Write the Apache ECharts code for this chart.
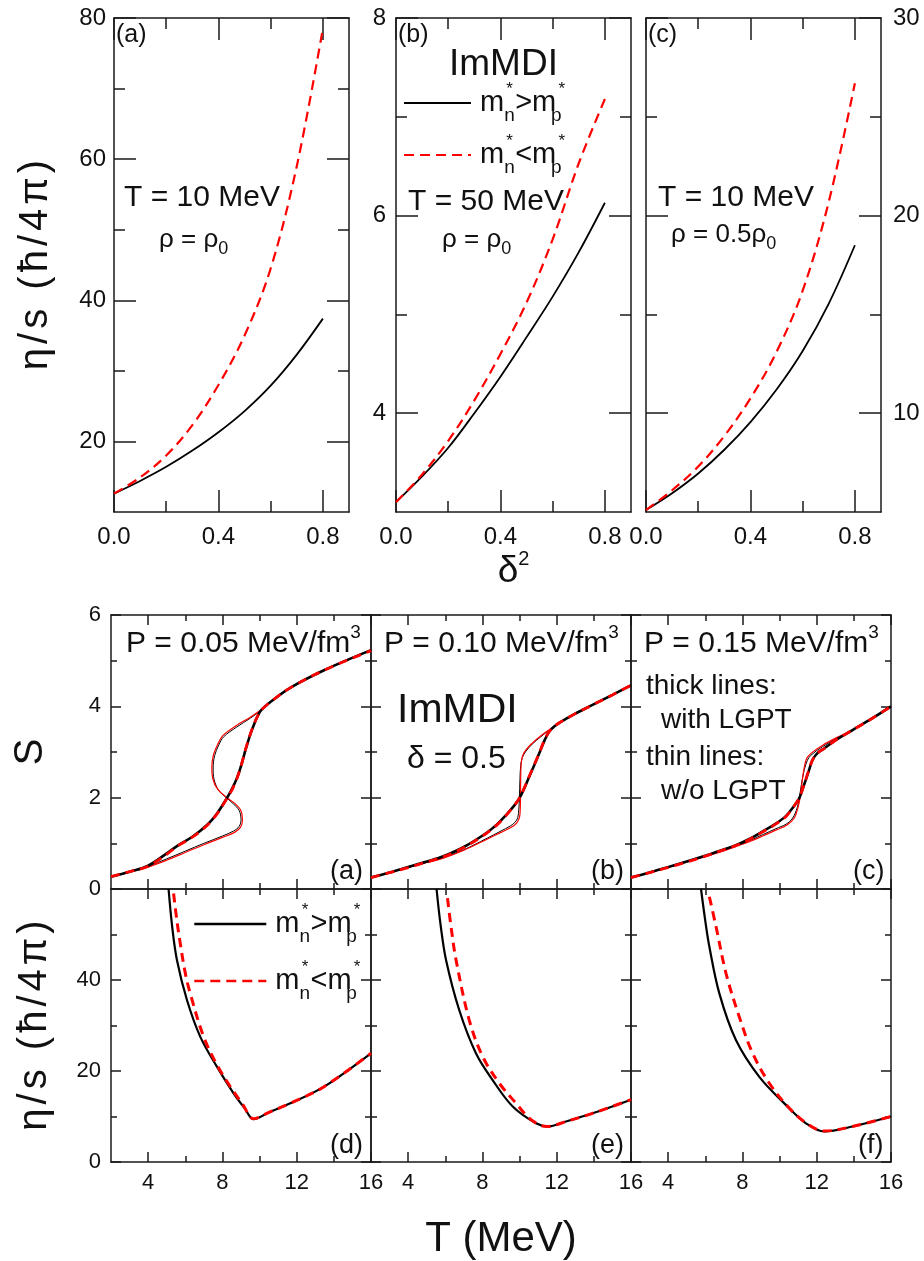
<!DOCTYPE html>
<html>
<head>
<meta charset="utf-8">
<script src="https://cdn.jsdelivr.net/npm/echarts@6/dist/echarts.min.js"></script>
<style>
  html, body { margin: 0; padding: 0; background: #fff; }
  #chart { width: 924px; height: 1261px; }
</style>
</head>
<body>
<div id="chart"></div>
<script>
const FONT = '"Liberation Sans", Arial, Helvetica, sans-serif';
const INK = '#111';
const AXIS = '#1a1a1a';
const RED = '#ff0000';

// ---------- upper row: eta/s versus delta^2 ----------
const delta2 = [0, 0.1, 0.2, 0.3, 0.4, 0.5, 0.6, 0.7, 0.8];
const etaT10rho1_gt = [12.6, 14.4, 16.4, 18.7, 21.3, 24.3, 27.9, 32.3, 37.4];
const etaT10rho1_lt = [12.6, 14.9, 18.0, 22.3, 28.0, 35.0, 44.5, 59.0, 78.5];
const etaT50rho1_gt = [3.1, 3.36, 3.65, 4.0, 4.37, 4.77, 5.18, 5.63, 6.13];
const etaT50rho1_lt = [3.1, 3.38, 3.72, 4.13, 4.6, 5.12, 5.76, 6.53, 7.18];
const etaT10rho05_gt = [5.1, 5.95, 6.95, 8.15, 9.55, 11.2, 13.15, 15.55, 18.5];
const etaT10rho05_lt = [5.1, 6.1, 7.3, 8.85, 10.75, 13.1, 16.2, 20.7, 26.7];

// ---------- lower row: entropy per nucleon S(T) at fixed pressure ----------
const S_P005_lgpt_gt = [[2,0.27],[3,0.38],[4,0.51],[5,0.78],[5.55,0.94],[6.4,1.15],[7.17,1.40],[7.7,1.65],[8.24,1.99],[8.55,2.22],[8.8,2.45],[9.02,2.72],[9.24,3.04],[9.48,3.36],[9.69,3.59],[9.9,3.79],[10.1,3.92],[10.6,4.1],[11.67,4.41],[13.47,4.79],[16,5.23]];
const S_P005_lgpt_lt = [[2,0.27],[3,0.38],[4,0.5],[5,0.76],[5.55,0.93],[6.4,1.14],[7.17,1.39],[7.7,1.64],[8.24,1.98],[8.55,2.2],[8.8,2.44],[9.02,2.72],[9.24,3.05],[9.48,3.37],[9.69,3.6],[9.9,3.79],[10.1,3.92],[10.6,4.1],[11.67,4.41],[13.47,4.79],[16,5.22]];
const S_P005_nolgpt_gt = [[2,0.27],[3,0.38],[4,0.5],[5,0.66],[6,0.83],[7,1.0],[8,1.16],[8.6,1.27],[8.9,1.37],[9.0,1.52],[8.9,1.72],[8.6,1.86],[8.24,1.99],[7.8,2.16],[7.55,2.4],[7.5,2.65],[7.58,2.92],[7.8,3.15],[8.06,3.33],[8.78,3.55],[9.5,3.74],[10.1,3.92],[10.6,4.1],[11.67,4.41],[13.47,4.79],[16,5.23]];
const S_P005_nolgpt_lt = [[2,0.27],[3,0.37],[4,0.48],[5,0.63],[6,0.8],[7,0.97],[8,1.13],[8.65,1.24],[8.97,1.35],[9.08,1.52],[8.98,1.73],[8.65,1.88],[8.24,2.0],[7.75,2.18],[7.48,2.42],[7.43,2.67],[7.52,2.94],[7.75,3.17],[8.02,3.36],[8.75,3.58],[9.5,3.76],[10.1,3.93],[10.6,4.1],[11.67,4.41],[13.47,4.79],[16,5.23]];

const S_P010_lgpt_gt = [[2,0.25],[3,0.36],[4,0.48],[5,0.6],[5.86,0.71],[7,0.92],[8.19,1.22],[8.8,1.42],[9.27,1.62],[9.7,1.82],[9.99,1.99],[10.27,2.22],[10.52,2.46],[10.8,2.72],[11.06,2.97],[11.35,3.26],[11.6,3.45],[11.9,3.57],[12.14,3.64],[13,3.84],[13.93,4.03],[15,4.25],[16,4.46]];
const S_P010_lgpt_lt = [[2,0.25],[3,0.36],[4,0.47],[5,0.59],[5.86,0.7],[7,0.91],[8.19,1.21],[8.8,1.41],[9.27,1.61],[9.7,1.82],[9.99,1.99],[10.27,2.23],[10.52,2.47],[10.8,2.73],[11.06,2.98],[11.35,3.27],[11.6,3.45],[11.9,3.57],[12.14,3.64],[13,3.84],[13.93,4.03],[15,4.25],[16,4.46]];
const S_P010_nolgpt_gt = [[2,0.25],[3,0.36],[4,0.47],[5,0.58],[5.86,0.68],[7,0.86],[8.19,1.1],[9,1.27],[9.5,1.38],[9.75,1.46],[9.9,1.56],[9.96,1.75],[9.99,1.99],[10.02,2.4],[10.06,2.7],[10.15,2.88],[10.35,3.02],[10.7,3.18],[11.1,3.32],[11.5,3.45],[12.14,3.64],[13,3.84],[13.93,4.03],[15,4.25],[16,4.46]];
const S_P010_nolgpt_lt = [[2,0.25],[3,0.36],[4,0.47],[5,0.58],[5.86,0.67],[7,0.85],[8.19,1.08],[9,1.24],[9.55,1.35],[9.85,1.45],[10.0,1.58],[10.04,1.8],[10.05,2.0],[10.06,2.4],[10.08,2.7],[10.15,2.9],[10.35,3.05],[10.7,3.2],[11.1,3.34],[11.5,3.46],[12.14,3.64],[13,3.84],[13.93,4.03],[15,4.25],[16,4.46]];

const S_P015_lgpt_gt = [[2,0.25],[3,0.36],[4.07,0.49],[5,0.6],[5.86,0.71],[6.8,0.84],[7.65,0.96],[8.4,1.1],[9.09,1.26],[9.8,1.43],[10.35,1.6],[10.75,1.8],[11.06,1.99],[11.25,2.2],[11.42,2.4],[11.6,2.62],[11.78,2.83],[12.05,2.98],[12.41,3.08],[13.1,3.28],[13.93,3.48],[15,3.74],[16,4.0]];
const S_P015_lgpt_lt = [[2,0.25],[3,0.36],[4.07,0.48],[5,0.59],[5.86,0.7],[6.8,0.83],[7.65,0.95],[8.4,1.09],[9.09,1.25],[9.8,1.42],[10.35,1.59],[10.75,1.8],[11.06,1.99],[11.25,2.2],[11.42,2.41],[11.6,2.63],[11.78,2.83],[12.05,2.98],[12.41,3.08],[13.1,3.28],[13.93,3.48],[15,3.74],[16,4.0]];
const S_P015_nolgpt_gt = [[2,0.25],[3,0.36],[4.07,0.49],[5,0.6],[5.86,0.7],[6.8,0.82],[7.65,0.94],[8.4,1.06],[9.09,1.19],[9.8,1.32],[10.35,1.42],[10.7,1.55],[10.95,1.78],[11.06,1.99],[11.18,2.3],[11.33,2.61],[11.5,2.82],[11.69,2.93],[12.32,3.12],[13.1,3.3],[13.93,3.48],[15,3.74],[16,4.0]];
const S_P015_nolgpt_lt = [[2,0.25],[3,0.36],[4.07,0.48],[5,0.59],[5.86,0.69],[6.8,0.81],[7.65,0.93],[8.4,1.04],[9.09,1.16],[9.8,1.29],[10.4,1.4],[10.8,1.56],[11.0,1.8],[11.1,1.99],[11.2,2.3],[11.3,2.6],[11.45,2.85],[11.69,2.97],[12.32,3.15],[13.1,3.32],[13.93,3.48],[15,3.74],[16,4.0]];

// ---------- lower row: eta/s versus T ----------
const eta_P005_gt = [[5.1,60],[5.3,51.5],[5.55,44.4],[6.09,35.6],[6.81,27.5],[7.71,20.9],[8.6,15.1],[9.2,11.8],[9.68,9.4],[10.5,10.9],[11.66,12.9],[13.45,16.5],[16,23.9]];
const eta_P005_lt = [[5.37,59],[5.55,53],[5.73,48],[6.0,41.5],[6.27,37],[6.99,27.5],[7.71,21.3],[8.42,16.6],[9.1,12.6],[9.68,9.5],[10.5,10.9],[11.66,12.9],[13.45,16.5],[16,23.9]];
const eta_P010_gt = [[5.53,60],[5.75,52],[6.04,44.4],[6.75,33.4],[7.65,23.9],[8.55,18],[9.63,12.2],[10.89,8.5],[11.51,7.8],[12.5,8.9],[13.93,10.7],[16,13.7]];
const eta_P010_lt = [[6.12,58],[6.3,52],[6.58,44.4],[7.29,31.2],[8.01,23.2],[8.91,17.3],[9.81,12.9],[10.5,9.7],[11.1,8.1],[11.51,7.8],[12.5,8.9],[13.93,10.7],[16,13.7]];
const eta_P015_gt = [[5.77,60],[6.0,53],[6.22,47.3],[6.76,37],[7.65,26.8],[8.91,18.7],[10.35,12.5],[11.42,8.5],[12.41,6.7],[13.93,7.8],[16,10.0]];
const eta_P015_lt = [[6.22,58.3],[6.58,51.7],[7.12,41.4],[7.83,31.9],[8.55,23.9],[9.45,17.3],[10.53,11.8],[11.42,8.6],[12.41,6.8],[13.93,7.8],[16,10.0]];

// ---------- axis ranges and ticks ----------
const xDelta = { range: [0, 0.9], major: [0, 0.4, 0.8], minor: [0.2, 0.6], labels: [0, 0.4, 0.8] };
const yEtaA = { range: [10, 80], major: [20, 40, 60, 80], minor: [30, 50, 70], labels: [20, 40, 60, 80] };
const yEtaB = { range: [3, 8], major: [4, 6, 8], minor: [5, 7], labels: [4, 6, 8] };
const yEtaC = { range: [5, 30], major: [10, 20, 30], minor: [15, 25], labels: [10, 20, 30] };
const xTemp = { range: [2, 16], major: [4, 8, 12, 16], minor: [6, 10, 14], labels: [4, 8, 12, 16] };
const yEntropy = { range: [0, 6], major: [0, 2, 4, 6], minor: [1, 3, 5], labels: [0, 2, 4, 6] };
const yEtaT = { range: [0, 60], major: [0, 20, 40, 60], minor: [10, 30, 50], labels: [0, 20, 40] };

const legendNames = ['mn>mp', 'mn<mp'];
const etaTitleText = 'η/s (ħ/4π)';

// ---------- builders ----------
const grid = [], xAxis = [], yAxis = [], series = [];

function axis(gi, pos, rng, ticks, len, showLine, label, extra) {
  return Object.assign({
    type: 'value', gridIndex: gi, position: pos, min: rng[0], max: rng[1],
    axisLine: { show: showLine, onZero: false, lineStyle: { color: AXIS, width: 1.5 } },
    axisTick: { show: true, inside: true, length: len, customValues: ticks, lineStyle: { color: AXIS, width: 1.5 } },
    axisLabel: label ? {
      show: true, customValues: label.values, formatter: label.fmt, margin: label.margin,
      fontSize: label.size, color: INK, fontFamily: FONT
    } : { show: false },
    splitLine: { show: false }, minorTick: { show: false }, axisPointer: { show: false }
  }, extra || {});
}

function panel(box, xs, ys, o) {
  const gi = grid.length;
  grid.push(Object.assign({ show: false }, box));
  const xi = xAxis.length;
  const xl = o.xLabel ? { values: xs.labels, fmt: o.xFmt, margin: o.xMargin, size: o.size } : null;
  xAxis.push(axis(gi, 'bottom', xs.range, xs.major, o.maj, true, xl, o.xExtra));
  xAxis.push(axis(gi, 'bottom', xs.range, xs.minor, o.min, false, null));
  xAxis.push(axis(gi, 'top', xs.range, xs.major, o.maj, true, null));
  xAxis.push(axis(gi, 'top', xs.range, xs.minor, o.min, false, null));
  const yi = yAxis.length;
  const yl = { values: ys.labels, fmt: o.yFmt, margin: o.yMargin, size: o.size };
  yAxis.push(axis(gi, 'left', ys.range, ys.major, o.maj, true, o.yLabel === 'left' ? yl : null, o.yExtra));
  yAxis.push(axis(gi, 'left', ys.range, ys.minor, o.min, false, null));
  yAxis.push(axis(gi, 'right', ys.range, ys.major, o.maj, true, o.yLabel === 'right' ? yl : null));
  yAxis.push(axis(gi, 'right', ys.range, ys.minor, o.min, false, null));
  return { xi, yi };
}

function line(name, data, ax, color, width, dash, z) {
  series.push({
    type: 'line', name, data, xAxisIndex: ax.xi, yAxisIndex: ax.yi,
    symbol: 'none', smooth: 0.35, silent: true, z: z || 2,
    lineStyle: { color, width, type: dash || 'solid', cap: 'butt' },
    itemStyle: { color }
  });
}

const pairs = (xs, ys) => xs.map((x, i) => [x, ys[i]]);

// vertical axis title with slightly opened letter spacing
const etaTitle = (size, gap) => ({
  name: Array.from(etaTitleText).map(ch => '{c|' + ch + '}').join(''),
  nameLocation: 'middle', nameRotate: 90, nameGap: gap,
  nameTextStyle: {
    rich: { c: { fontSize: size, fontFamily: FONT, color: INK, padding: [0, 2, 0, 2] } }
  }
});

// ---------- upper row panels ----------
const topH = { top: 18, width: 235, height: 494 };
const topOpt = { maj: 22, min: 11, size: 24, xLabel: true, xFmt: v => v.toFixed(1), xMargin: 13, yFmt: v => String(v) };

const pA = panel(Object.assign({ left: 114 }, topH), xDelta, yEtaA,
  Object.assign({}, topOpt, { yLabel: 'left', yMargin: 8, yExtra: etaTitle(40, 58) }));
const pB = panel(Object.assign({ left: 396 }, topH), xDelta, yEtaB,
  Object.assign({}, topOpt, {
    yLabel: 'left', yMargin: 10,
    xExtra: {
      name: '{d|δ}{s|2}', nameLocation: 'middle', nameGap: 37,
      nameTextStyle: {
        lineHeight: 44,
        rich: {
          d: { fontSize: 37, fontFamily: FONT, color: INK, lineHeight: 44 },
          s: { fontSize: 20, fontFamily: FONT, color: INK, lineHeight: 22, verticalAlign: 'top' }
        }
      }
    }
  }));
const pC = panel(Object.assign({ left: 646 }, topH), xDelta, yEtaC,
  Object.assign({}, topOpt, { yLabel: 'right', yMargin: 12 }));

line(legendNames[0], pairs(delta2, etaT10rho1_gt), pA, '#000', 1.8, null, 2);
line(legendNames[1], pairs(delta2, etaT10rho1_lt), pA, RED, 2.2, [10, 6], 3);
line(legendNames[0], pairs(delta2, etaT50rho1_gt), pB, '#000', 1.8, null, 2);
line(legendNames[1], pairs(delta2, etaT50rho1_lt), pB, RED, 2.2, [10, 6], 3);
line(legendNames[0], pairs(delta2, etaT10rho05_gt), pC, '#000', 1.8, null, 2);
line(legendNames[1], pairs(delta2, etaT10rho05_lt), pC, RED, 2.2, [10, 6], 3);

// ---------- lower row panels ----------
const lowOpt = { maj: 10, min: 6, size: 22, xFmt: v => String(v), xMargin: 10, yFmt: v => String(v), yMargin: 10 };
const colLeft = [111, 371, 631];
const sBox = { top: 615, width: 260, height: 274 };
const eBox = { top: 889, width: 260, height: 273 };

const sPanels = colLeft.map((l, i) => panel(Object.assign({ left: l }, sBox), xTemp, yEntropy,
  Object.assign({}, lowOpt, {
    xLabel: false, yLabel: i === 0 ? 'left' : null,
    yExtra: i === 0 ? { name: 'S', nameLocation: 'middle', nameRotate: 90, nameGap: 60,
      nameTextStyle: { fontSize: 40, fontFamily: FONT, color: INK } } : null
  })));
const ePanels = colLeft.map((l, i) => panel(Object.assign({ left: l }, eBox), xTemp, yEtaT,
  Object.assign({}, lowOpt, {
    xLabel: true, yLabel: i === 0 ? 'left' : null,
    yExtra: i === 0 ? etaTitle(40, 56) : null,
    xExtra: i === 1 ? { name: 'T (MeV)', nameLocation: 'middle', nameGap: 56,
      nameTextStyle: { fontSize: 42, fontFamily: FONT, color: INK } } : null
  })));

const sSets = [
  [S_P005_nolgpt_gt, S_P005_nolgpt_lt, S_P005_lgpt_gt, S_P005_lgpt_lt],
  [S_P010_nolgpt_gt, S_P010_nolgpt_lt, S_P010_lgpt_gt, S_P010_lgpt_lt],
  [S_P015_nolgpt_gt, S_P015_nolgpt_lt, S_P015_lgpt_gt, S_P015_lgpt_lt]
];
sSets.forEach((set, i) => {
  line('thin-gt', set[0], sPanels[i], '#000', 1, null, 2);
  line('thin-lt', set[1], sPanels[i], RED, 1.2, null, 2);
  line(legendNames[0], set[2], sPanels[i], '#000', 2.6, null, 3);
  line(legendNames[1], set[3], sPanels[i], RED, 2.8, [9, 6], 4);
});

const eSets = [[eta_P005_gt, eta_P005_lt], [eta_P010_gt, eta_P010_lt], [eta_P015_gt, eta_P015_lt]];
eSets.forEach((set, i) => {
  line(legendNames[0], set[0], ePanels[i], '#000', 2.2, null, 2);
  line(legendNames[1], set[1], ePanels[i], RED, 3, [9, 6], 3);
});

// ---------- legends (m*_n vs m*_p) ----------
const mRich = {
  m: { fontSize: 29, fontFamily: FONT, color: INK, lineHeight: 44 },
  sb: { fontSize: 19, fontFamily: FONT, color: INK, lineHeight: 19, verticalAlign: 'bottom', width: 0 },
  st: { fontSize: 17, fontFamily: FONT, color: INK, lineHeight: 17, verticalAlign: 'top', width: 11, align: 'center' }
};
const mLabel = name => name === legendNames[0]
  ? '{m|m}{sb|n}{st|*}{m|>m}{sb|p}{st|*}'
  : '{m|m}{sb|n}{st|*}{m|<m}{sb|p}{st|*}';
function legend(left, top, w, gap, lw) {
  return {
    data: legendNames, left, top, orient: 'vertical', padding: 0,
    itemWidth: w, itemHeight: 14, itemGap: gap, selectedMode: false,
    formatter: mLabel, textStyle: { rich: mRich, color: INK, padding: [0, 0, 0, 4] },
    itemStyle: { opacity: 0, borderWidth: 0 },
    lineStyle: { width: lw }
  };
}

// ---------- annotation texts ----------
function rich(size) {
  return {
    b: { fontSize: size, fontFamily: FONT, fill: INK, lineHeight: Math.round(size * 1.4) },
    sb: { fontSize: Math.round(size * 0.68), fontFamily: FONT, fill: INK, lineHeight: Math.round(size * 0.68), verticalAlign: 'bottom' },
    sp: { fontSize: Math.round(size * 0.62), fontFamily: FONT, fill: INK, lineHeight: Math.round(size * 0.62), verticalAlign: 'top' }
  };
}
function txt(left, top, text, size) {
  return { type: 'text', left, top, silent: true, z: 10,
    style: { text, fontSize: size, fontFamily: FONT, fill: INK, rich: rich(size) } };
}

const graphic = [
  txt(116, 23, '{b|(a)}', 25),
  txt(398, 23, '{b|(b)}', 25),
  txt(648, 23, '{b|(c)}', 25),
  txt(124, 183, '{b|T = 10 MeV}', 30),
  txt(159, 227, '{b|ρ = ρ}{sb|0}', 26),
  txt(449, 46, '{b|ImMDI}', 37),
  txt(408, 187, '{b|T = 50 MeV}', 30),
  txt(442, 227, '{b|ρ = ρ}{sb|0}', 26),
  txt(658, 183, '{b|T = 10 MeV}', 30),
  txt(671, 222, '{b|ρ = 0.5ρ}{sb|0}', 26),

  txt(126, 623, '{b|P = 0.05 MeV/fm}{sp|3}', 30),
  txt(384, 623, '{b|P = 0.10 MeV/fm}{sp|3}', 30),
  txt(644, 623, '{b|P = 0.15 MeV/fm}{sp|3}', 30),
  txt(397, 690, '{b|ImMDI}', 41),
  txt(407, 743, '{b|δ = 0.5}', 32),
  txt(646, 672, '{b|thick lines:}', 28),
  txt(661, 706, '{b|with LGPT}', 28),
  txt(646, 743, '{b|thin lines:}', 28),
  txt(661, 777, '{b|w/o LGPT}', 28),
  txt(330, 858, '{b|(a)}', 27),
  txt(591, 858, '{b|(b)}', 27),
  txt(853, 858, '{b|(c)}', 27),
  txt(330, 1132, '{b|(d)}', 27),
  txt(591, 1132, '{b|(e)}', 27),
  txt(858, 1132, '{b|(f)}', 27)
];

const option = {
  animation: false,
  backgroundColor: '#fff',
  textStyle: { fontFamily: FONT },
  grid, xAxis, yAxis, series, graphic,
  legend: [legend(403, 81, 67, 8, 2), legend(193, 902, 72, 13, 2.6)]
};

const chart = echarts.init(document.getElementById('chart'));
chart.setOption(option);
</script>
</body>
</html>
